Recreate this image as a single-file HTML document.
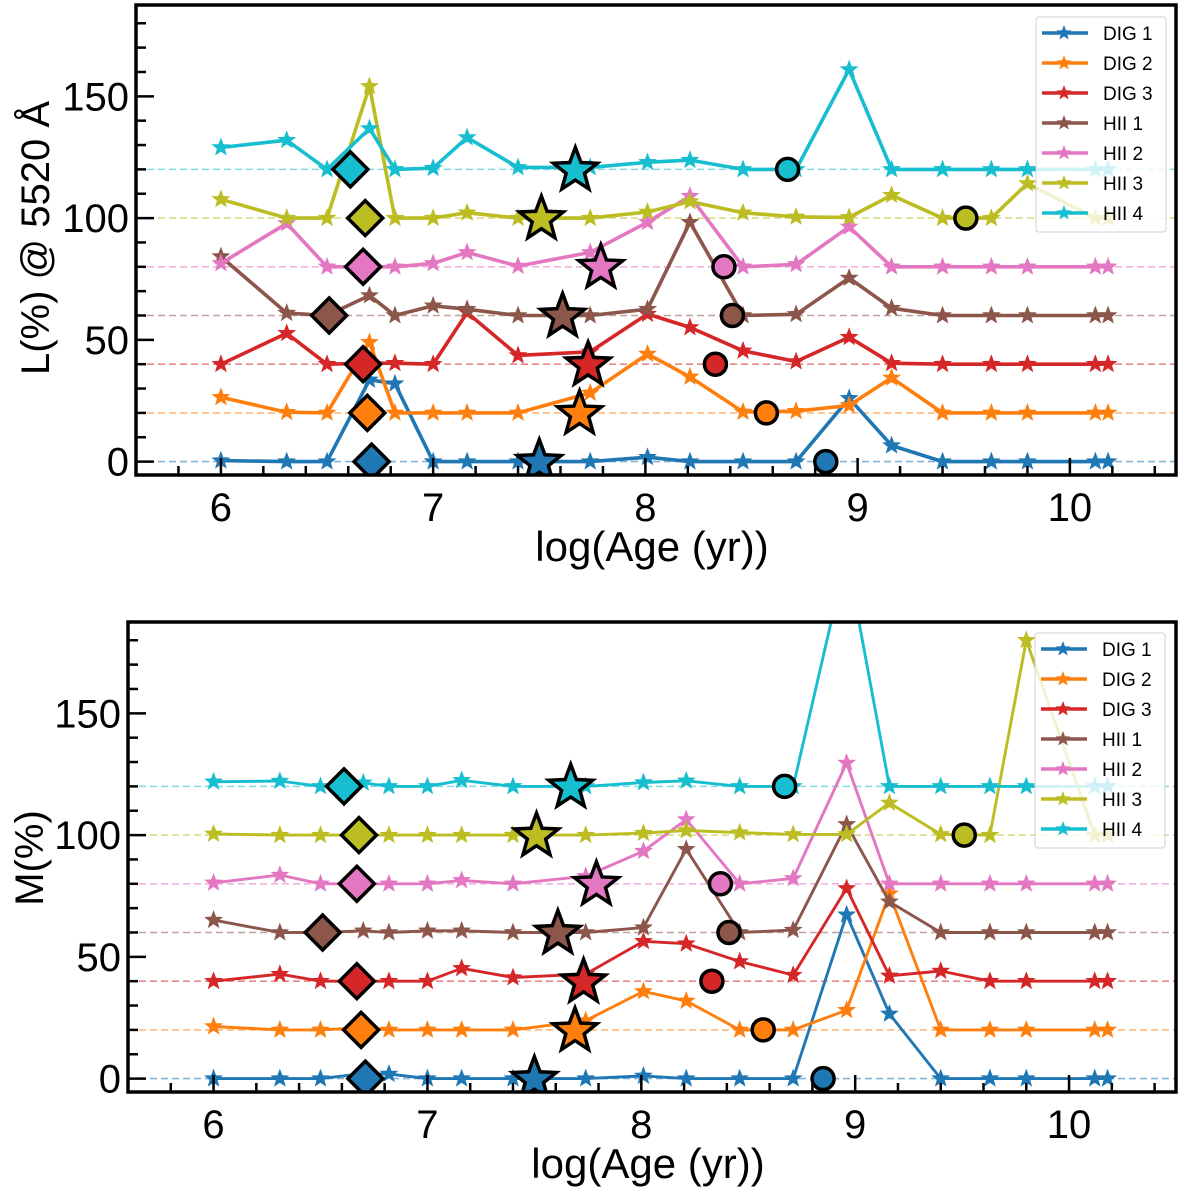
<!DOCTYPE html>
<html><head><meta charset="utf-8">
<style>
html,body{margin:0;padding:0;background:#fff;}
svg{display:block;font-family:"Liberation Sans",Arial,sans-serif;}
</style></head>
<body>
<svg id="fig" width="1200" height="1197" viewBox="0 0 1200 1197" xmlns="http://www.w3.org/2000/svg"></svg>
<script>
// ---- data ----
const ages = [6.0,6.31,6.50,6.70,6.82,7.0,7.16,7.40,7.74,8.01,8.21,8.46,8.71,8.96,9.16,9.40,9.63,9.80,10.12,10.18];
const seriesNames = ["DIG 1","DIG 2","DIG 3","HII 1","HII 2","HII 3","HII 4"];
const offsets = [0,20,40,60,80,100,120];
const colors = ["#1f77b4","#ff7f0e","#d62728","#8c564b","#e377c2","#bcbd22","#17becf"];
// Light fractions (top panel), values above each offset
const L_dig1 = [0.4,0,0,33.6,32,0,0,0,0,1.8,0,0,0,26,6.6,0,0,0,0,0];
const L_dig2 = [6.4,0.3,0,29,0,0,0,0,8.2,24.2,14.8,0.4,0.7,3.1,14.4,0,0,0,0,0];
const L_dig3 = [0,12.7,0,0.4,0.4,0,21.2,3.6,5.1,20.6,15.1,5.5,1.1,11.1,0.4,0,0,0,0,0];
const L_hii1 = [24.2,1,0,8.2,0,4,2.6,0,0,2.6,38.3,0,0.5,15.4,3,0,0,0,0,0];
const L_hii2 = [1.4,17.8,0,0,0,1.4,5.9,0.3,5.9,18.3,29,0,1,16.4,0,0,0,0,0,0];
const L_hii3 = [7.7,0,0,54.1,0,0,2.2,0,0,2.5,6.8,2.2,0.5,0.3,9.4,0,0,14.2,0,0];
const L_hii4 = [9,12,0,16.8,0,0.5,13.1,0.8,0.8,2.9,3.8,0,0,41,0,0,0,0,0,0];
// Mass fractions (bottom panel)
const M_dig1 = [0,0,0,2,1.9,0,0,0,0,1.1,0,0,0,67.3,26.6,0,0,0,0,0];
const M_dig2 = [1.4,0,0,1,0,0,0,0,3.8,15.8,11.9,0,0,8.1,55.9,0,0,0,0,0];
const M_dig3 = [0,2.9,0,0,0,0,5.3,1.5,2.9,16.4,15.4,8.1,2.5,38.1,2.2,4.2,0,0,0,0];
const M_hii1 = [5.1,0,0,0.7,0,0.7,0.7,0,0,2,34.2,0,1,44.4,12.6,0,0,0,0,0];
const M_hii2 = [0.4,3.6,0,0,0,0,1.4,0,3.1,13.4,26.4,0,2.2,49.6,0,0,0,0,0,0];
const M_hii3 = [0.5,0,0,0,0,0,0,0,0,0.8,1.9,1,0.3,0.3,13.2,0.3,0,80,0,0];
const M_hii4 = [1.9,2.2,0,1.5,0,0,2.5,0,0,1.6,2.3,0,0,95,0,0,0,0,0,0];
// Characteristic ages (same for both panels)
const diamondAges = [6.71,6.69,6.67,6.51,6.67,6.68,6.61];
const starAges = [7.50,7.69,7.73,7.61,7.79,7.51,7.67];
const circleAges = [8.85,8.57,8.33,8.41,8.37,9.51,8.67];
const xTicks = [6,7,8,9,10];
const yTicks = [0,50,100,150];

const NS = "http://www.w3.org/2000/svg";
const svg = document.getElementById('fig');
function mk(tag, attrs, parent){ const e=document.createElementNS(NS,tag); for(const k in attrs) e.setAttribute(k,attrs[k]); (parent||svg).appendChild(e); return e; }
function starPts(cx,cy,R){ const r=R*0.42; let p=[]; for(let i=0;i<10;i++){ const a=-Math.PI/2+i*Math.PI/5; const rr=i%2?r:R; p.push((cx+rr*Math.cos(a)).toFixed(2)+","+(cy+rr*Math.sin(a)).toFixed(2)); } return p.join(" "); }

function panel(cfg){
  const {id,L,T,R,B,xlim,ylim,data,ylabel,lw} = cfg;
  const sx = v => L + (v-xlim[0])/(xlim[1]-xlim[0])*(R-L);
  const sy = v => B - (v-ylim[0])/(ylim[1]-ylim[0])*(B-T);
  const g = mk('g',{});
  
  
  const cp = mk('clipPath',{id:id+'-clip'},g);
  mk('rect',{x:L,y:T,width:R-L,height:B-T},cp);
  const plot = mk('g',{'clip-path':'url(#'+id+'-clip)'},g);
  
  
  offsets.forEach((o,i)=>{
    const ln = mk('line',{x1:L,x2:R,y1:sy(o),y2:sy(o),stroke:colors[i],'stroke-opacity':0.55,'stroke-width':1.6,'stroke-dasharray':'7,4'},plot);
    
    
  });
  data.forEach((vals,i)=>{
    const sg = mk('g',{},plot);
    
    
    const pts = vals.map((v,j)=>sx(ages[j]).toFixed(1)+","+sy(v+offsets[i]).toFixed(1)).join(" ");
    mk('polyline',{points:pts,fill:'none',stroke:colors[i],'stroke-width':lw,'stroke-linejoin':'round'},sg);
    vals.forEach((v,j)=>{
      const s = mk('polygon',{points:starPts(sx(ages[j]),sy(v+offsets[i]),8.5),fill:colors[i],stroke:colors[i],'stroke-width':1},sg);
      
      
    });
  });
  offsets.forEach((o,i)=>{
    const y = sy(o);
    const dx = sx(diamondAges[i]);
    const d = mk('polygon',{points:`${dx},${y-17.5} ${dx+17.5},${y} ${dx},${y+17.5} ${dx-17.5},${y}`,fill:colors[i],stroke:'#000','stroke-width':3.5,'stroke-linejoin':'miter'},plot);
    
    
    const st = mk('polygon',{points:starPts(sx(starAges[i]),y+1,23),fill:colors[i],stroke:'#000','stroke-width':3.5,'stroke-linejoin':'miter'},plot);
    
    
    const c = mk('circle',{cx:sx(circleAges[i]),cy:y,r:11,fill:colors[i],stroke:'#000','stroke-width':3.5},plot);
    
    
  });
  const tg = mk('g',{stroke:'#000','stroke-width':2.5},g);
  
  
  for(let v=5.6; v<=10.5001; v+=0.2){
    const x=sx(v); const major = Math.abs(v-Math.round(v))<0.01;
    mk('line',{x1:x,x2:x,y1:B,y2:B-(major?17:9)},tg);
  }
  for(let v=0; v<=ylim[1]; v+=10){
    const y=sy(v); const major = v%50===0;
    mk('line',{x1:L,x2:L+(major?18:10),y1:y,y2:y},tg);
  }
  const fr = mk('rect',{x:L,y:T,width:R-L,height:B-T,fill:'none',stroke:'#000','stroke-width':3.5},g);
  
  
  xTicks.forEach(v=>{
    const t = mk('text',{x:sx(v),y:B+46,'font-size':40,'text-anchor':'middle',fill:'#000'},g);
    t.textContent = v;
    
    
  });
  yTicks.forEach(v=>{
    const t = mk('text',{x:L-7,y:sy(v)+14,'font-size':40,'text-anchor':'end',fill:'#000'},g);
    t.textContent = v;
    
    
  });
  const xl = mk('text',{x:(L+R)/2-4,y:B+86,'font-size':42,'text-anchor':'middle',fill:'#000'},g);
  xl.textContent = 'log(Age (yr))';
  
  
  const yl = mk('text',{x:0,y:0,'font-size':40,'text-anchor':'middle',fill:'#000',transform:`translate(${cfg.ylx},${cfg.yly}) rotate(-90)`},g);
  yl.textContent = ylabel;
  
  
  const lg = mk('g',{},g);
  
  
  const lx = cfg.legX, ly = cfg.legY;
  mk('rect',{x:lx,y:ly,width:130,height:215,rx:3,fill:'#fff','fill-opacity':0.8,stroke:'#d0d0d0','stroke-width':1},lg);
  seriesNames.forEach((n,i)=>{
    const yy = ly+16+i*30;
    const e = mk('g',{},lg);
    
    
    mk('line',{x1:lx+6,x2:lx+52,y1:yy,y2:yy,stroke:colors[i],'stroke-width':3.5},e);
    mk('polygon',{points:starPts(lx+28,yy,8),fill:colors[i]},e);
    const t = mk('text',{x:lx+67,y:yy+7,'font-size':19,fill:'#000'},e);
    t.textContent = n;
  });
}

panel({id:'light',L:136,T:5,R:1176,B:475,xlim:[5.6,10.5],ylim:[-5.5,187.5],
  data:[L_dig1,L_dig2,L_dig3,L_hii1,L_hii2,L_hii3,L_hii4],ylabel:'L(%) @ 5520 Å',lw:3.6,ylx:49,yly:238,legX:1036,legY:17});
panel({id:'mass',L:128,T:622,R:1176,B:1092,xlim:[5.6,10.5],ylim:[-5.5,187.5],
  data:[M_dig1,M_dig2,M_dig3,M_hii1,M_hii2,M_hii3,M_hii4],ylabel:'M(%)',lw:2.9,ylx:43,yly:858,legX:1035,legY:633});
</script>
</body></html>
